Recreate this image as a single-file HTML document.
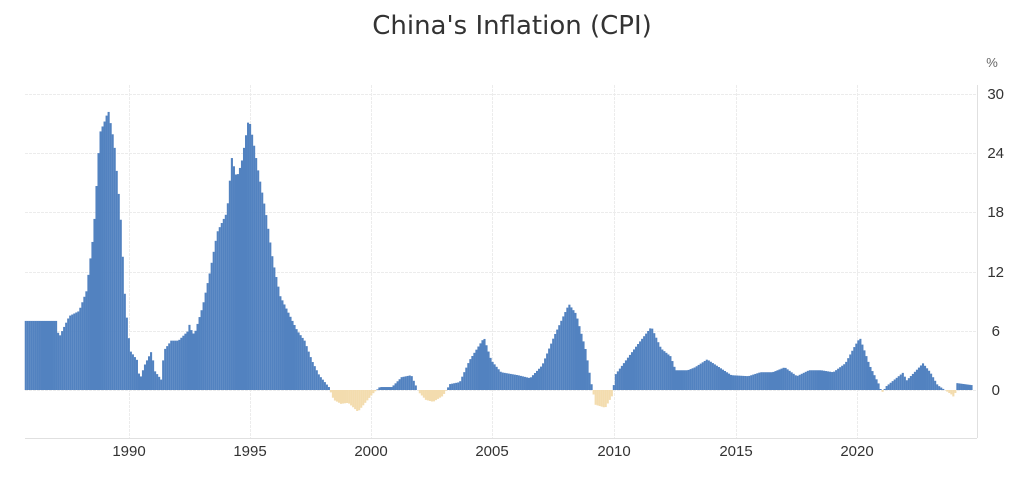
<!DOCTYPE html>
<html><head><meta charset="utf-8"><style>
body{margin:0;background:#fff;width:1024px;height:489px;overflow:hidden;font-family:"Liberation Sans","DejaVu Sans",sans-serif}
</style></head><body>
<svg id="c" width="1024" height="489" xmlns="http://www.w3.org/2000/svg">
<text x="512" y="34" text-anchor="middle" font-family="DejaVu Sans, sans-serif" font-size="26" fill="#333">China's Inflation (CPI)</text>
<text x="992" y="67" text-anchor="middle" font-size="13" fill="#666">%</text>
<g stroke="#ececec" stroke-width="1" stroke-dasharray="3,1">
<line x1="25" x2="977" y1="94.5" y2="94.5"/><line x1="25" x2="977" y1="153.5" y2="153.5"/>
<line x1="25" x2="977" y1="212.5" y2="212.5"/><line x1="25" x2="977" y1="272.5" y2="272.5"/>
<line x1="25" x2="977" y1="331.5" y2="331.5"/><line x1="25" x2="977" y1="390.5" y2="390.5"/>
<line x1="129.5" x2="129.5" y1="85" y2="438"/><line x1="250.5" x2="250.5" y1="85" y2="438"/>
<line x1="371.5" x2="371.5" y1="85" y2="438"/><line x1="492.5" x2="492.5" y1="85" y2="438"/>
<line x1="614.5" x2="614.5" y1="85" y2="438"/><line x1="736.5" x2="736.5" y1="85" y2="438"/>
<line x1="857.5" x2="857.5" y1="85" y2="438"/>
</g>
<line x1="977.5" x2="977.5" y1="85" y2="438" stroke="#e0e0e0"/>
<line x1="25" x2="977" y1="438.5" y2="438.5" stroke="#e0e0e0"/>
<g id="bars"></g>
<g font-size="15" fill="#333" text-anchor="end">
<text x="1004" y="99">30</text><text x="1004" y="158">24</text><text x="1004" y="217">18</text>
<text x="1004" y="277">12</text><text x="1000" y="336">6</text><text x="1000" y="395">0</text>
</g>
<g font-size="15" fill="#333" text-anchor="middle">
<text x="129" y="456">1990</text><text x="250" y="456">1995</text><text x="371" y="456">2000</text>
<text x="492" y="456">2005</text><text x="614" y="456">2010</text><text x="736" y="456">2015</text><text x="857" y="456">2020</text>
</g>
</svg>
<script>
var k=[[1985.7,7],[1987.0,7],[1987.05,5.2],[1987.5,7.5],[1987.9,8],[1988.2,10],[1988.5,16],[1988.75,26],[1989.0,27.5],[1989.1,28.4],[1989.35,25],[1989.6,18],[1989.8,9],[1990.0,4],[1990.3,3],[1990.4,1],[1990.6,2.5],[1990.9,4],[1991.0,2],[1991.3,1],[1991.4,4],[1991.7,5],[1992.0,5],[1992.4,6],[1992.5,7.2],[1992.55,5.5],[1992.7,6],[1993.0,8.5],[1993.3,12],[1993.6,16],[1993.8,17],[1994.0,18],[1994.2,23.5],[1994.4,21.5],[1994.6,23],[1994.9,27.6],[1995.1,25],[1995.3,22],[1995.6,18],[1995.9,13],[1996.2,9.5],[1996.5,8],[1996.9,6],[1997.2,5],[1997.5,3],[1997.8,1.5],[1998.2,0.3],[1998.4,-1],[1998.7,-1.4],[1999.0,-1.3],[1999.4,-2.2],[1999.7,-1.3],[2000.0,-0.4],[2000.3,0.3],[2000.8,0.3],[2001.2,1.3],[2001.6,1.5],[2001.9,-0.2],[2002.2,-1],[2002.5,-1.2],[2002.9,-0.6],[2003.2,0.6],[2003.6,0.8],[2004.0,3],[2004.6,5.3],[2004.9,3],[2005.3,1.8],[2006.0,1.5],[2006.5,1.2],[2007.0,2.5],[2007.5,5.5],[2008.1,8.7],[2008.4,7.7],[2008.8,4],[2009.0,1],[2009.2,-1.5],[2009.6,-1.8],[2009.9,-0.5],[2010.0,1.5],[2010.3,2.5],[2010.9,4.5],[2011.5,6.4],[2011.9,4.2],[2012.3,3.4],[2012.5,2],[2013.0,2],[2013.3,2.3],[2013.8,3.1],[2014.3,2.3],[2014.8,1.5],[2015.5,1.4],[2016.0,1.8],[2016.5,1.8],[2017.0,2.3],[2017.5,1.4],[2018.0,2],[2018.5,2],[2019.0,1.8],[2019.5,2.7],[2019.9,4.5],[2020.1,5.3],[2020.5,2.5],[2020.9,0.5],[2021.0,-0.3],[2021.2,0.4],[2021.5,1],[2021.9,1.8],[2022.0,0.9],[2022.7,2.7],[2023.0,1.8],[2023.3,0.5],[2023.6,0],[2023.9,-0.5],[2024.0,-0.8],[2024.1,0.7],[2024.7,0.5]];
function v(t){for(var i=0;i<k.length-1;i++){if(t<=k[i+1][0]){var a=k[i],b=k[i+1];return a[1]+(b[1]-a[1])*(t-a[0])/(b[0]-a[0]);}}return k[k.length-1][1];}
var s='';for(var t=1985.7;t<2024.7;t+=1/12){var x=129+(t-1990)*24.25;var val=v(t);var h=Math.abs(val)*9.87;var y=val>=0?390-h:390;
s+='<rect x="'+x.toFixed(2)+'" y="'+y.toFixed(2)+'" width="2.1" height="'+h.toFixed(2)+'" fill="'+(val>=0?'#5282c0':'#f3dcae')+'"/>';}
document.getElementById('bars').innerHTML=s;
</script>
</body></html>
